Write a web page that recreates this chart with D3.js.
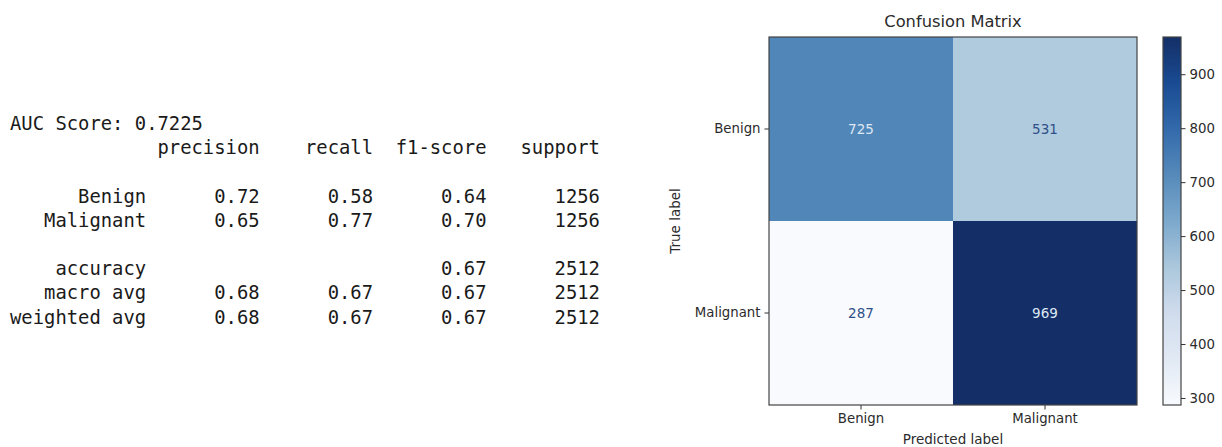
<!DOCTYPE html>
<html>
<head>
<meta charset="utf-8">
<script src="https://cdn.jsdelivr.net/npm/d3@7"></script>
<style>
  html, body { margin: 0; padding: 0; background: #fff; }
  svg { display: block; }
  .mono { font-family: "DejaVu Sans Mono", monospace; font-size: 18.85px; fill: #1a1a1a; white-space: pre; }
  .lab { font-family: "DejaVu Sans", sans-serif; fill: #2b2b2b; }
</style>
</head>
<body>
<svg id="chart" width="1222" height="447"></svg>
<script>
// ---- report data
var aucScore = "0.7225";
var reportHeader = ["precision", "recall", "f1-score", "support"];
var reportClasses = ["Benign", "Malignant"];
var precision = [0.72, 0.65];
var recall = [0.58, 0.77];
var f1score = [0.64, 0.70];
var support = [1256, 1256];
var accuracy = 0.67;
var totalSupport = 2512;
var macroAvg = [0.68, 0.67, 0.67];
var weightedAvg = [0.68, 0.67, 0.67];

// ---- confusion matrix data
var labels = ["Benign", "Malignant"];
var matrix = [[725, 531], [287, 969]];
var colorbarTicks = [300, 400, 500, 600, 700, 800, 900];

function draw() {
    var svg = d3.select("#chart");

    // pad like sklearn's classification_report
    function rpad(s, n) { s = String(s); while (s.length < n) s = " " + s; return s; }
    function row(name, vals) {
        return rpad(name, 12) + vals.map(function(v) { return rpad(v, 10); }).join("");
    }
    var lines = [];
    lines.push("AUC Score: " + aucScore);
    lines.push(rpad("", 12) + reportHeader.map(function(h) { return rpad(h, 10); }).join(""));
    lines.push("");
    reportClasses.forEach(function(c, i) {
        lines.push(row(c, [precision[i].toFixed(2), recall[i].toFixed(2), f1score[i].toFixed(2), support[i]]));
    });
    lines.push("");
    lines.push(row("accuracy", ["", "", accuracy.toFixed(2), totalSupport]));
    lines.push(row("macro avg", macroAvg.map(function(v) { return v.toFixed(2); }).concat([totalSupport])));
    lines.push(row("weighted avg", weightedAvg.map(function(v) { return v.toFixed(2); }).concat([totalSupport])));

    var lineY = d3.scaleLinear().domain([0, 1]).range([130, 154.2]);
    svg.append("g").selectAll("text")
        .data(lines)
        .enter().append("text")
        .attr("class", "mono")
        .attr("x", 10)
        .attr("y", function(d, i) { return lineY(i); })
        .attr("xml:space", "preserve")
        .text(function(d) { return d; });

    // ---- confusion matrix
    var mLeft = 769, mTop = 37, size = 368;
    var g = svg.append("g").attr("transform", "translate(" + mLeft + "," + mTop + ")");

    var x = d3.scaleBand().domain(labels).range([0, size]);
    var y = d3.scaleBand().domain(labels).range([0, size]);

    // Blues, slightly muted like the screenshot
    var blues = ["#f7fbff", "#deebf7", "#c6dbef", "#9ecae1", "#6baed6", "#4292c6", "#2171b5", "#08519c", "#08306b"]
        .map(function(c) {
            var h = d3.hsl(c);
            h.h += 5; h.s *= 0.78;
            if (h.l < 0.9) h.l += 0.015;
            return h.formatHex();
        });
    var vmin = d3.min(matrix, function(r) { return d3.min(r); });
    var vmax = d3.max(matrix, function(r) { return d3.max(r); });
    var color = d3.scaleLinear()
        .domain(blues.map(function(d, i) { return vmin + (vmax - vmin) * i / (blues.length - 1); }))
        .range(blues)
        .interpolate(d3.interpolateRgb);
    var thresh = (vmin + vmax) / 2;

    var cells = [];
    matrix.forEach(function(r, i) {
        r.forEach(function(v, j) { cells.push({t: labels[i], p: labels[j], v: v}); });
    });

    g.selectAll("rect.cell")
        .data(cells)
        .enter().append("rect")
        .attr("class", "cell")
        .attr("x", function(d) { return x(d.p); })
        .attr("y", function(d) { return y(d.t); })
        .attr("width", x.bandwidth())
        .attr("height", y.bandwidth())
        .attr("fill", function(d) { return color(d.v); });

    g.selectAll("text.val")
        .data(cells)
        .enter().append("text")
        .attr("class", "lab")
        .attr("x", function(d) { return x(d.p) + x.bandwidth() / 2; })
        .attr("y", function(d) { return y(d.t) + y.bandwidth() / 2; })
        .attr("dy", "0.35em")
        .attr("text-anchor", "middle")
        .style("font-size", "13.5px")
        .style("fill", function(d) { return d.v < thresh ? "#2f4f87" : "#dde8f5"; })
        .text(function(d) { return d.v; });

    // axes
    var xAxis = g.append("g")
        .attr("transform", "translate(0," + size + ")")
        .call(d3.axisBottom(x).tickSize(4.5).tickPadding(4));
    var yAxis = g.append("g")
        .call(d3.axisLeft(y).tickSize(4.5).tickPadding(4));
    [xAxis, yAxis].forEach(function(a) {
        a.select(".domain").remove();
        a.selectAll("line").attr("stroke", "#333").attr("stroke-width", 1);
        a.selectAll("text").attr("class", "lab").style("font-size", "13.3px").style("fill", "#2b2b2b");
    });

    g.append("rect")
        .attr("x", 0).attr("y", 0)
        .attr("width", size).attr("height", size)
        .attr("fill", "none")
        .attr("stroke", "#444")
        .attr("stroke-width", 1.2);

    svg.append("text")
        .attr("class", "lab")
        .attr("x", mLeft + size / 2)
        .attr("y", 27)
        .attr("text-anchor", "middle")
        .style("font-size", "16.3px")
        .text("Confusion Matrix");

    svg.append("text")
        .attr("class", "lab")
        .attr("x", mLeft + size / 2)
        .attr("y", 444)
        .attr("text-anchor", "middle")
        .style("font-size", "13.5px")
        .text("Predicted label");

    svg.append("text")
        .attr("class", "lab")
        .attr("transform", "translate(680," + (mTop + size / 2) + ") rotate(-90)")
        .attr("text-anchor", "middle")
        .style("font-size", "13.5px")
        .text("True label");

    // ---- colorbar
    var cbX = 1163, cbW = 18;
    var defs = svg.append("defs");
    var grad = defs.append("linearGradient")
        .attr("id", "cbgrad")
        .attr("x1", "0").attr("y1", "1").attr("x2", "0").attr("y2", "0");
    blues.forEach(function(c, i) {
        grad.append("stop")
            .attr("offset", (i / (blues.length - 1) * 100) + "%")
            .attr("stop-color", c);
    });
    var cb = svg.append("g").attr("transform", "translate(" + cbX + "," + mTop + ")");
    cb.append("rect")
        .attr("width", cbW).attr("height", size)
        .attr("fill", "url(#cbgrad)")
        .attr("stroke", "#444")
        .attr("stroke-width", 1.2);
    var cbScale = d3.scaleLinear().domain([vmin, vmax]).range([size, 0]);
    var cbAxis = cb.append("g")
        .attr("transform", "translate(" + cbW + ",0)")
        .call(d3.axisRight(cbScale).tickValues(colorbarTicks).tickSize(4.5).tickPadding(4));
    cbAxis.select(".domain").remove();
    cbAxis.selectAll("line").attr("stroke", "#333");
    cbAxis.selectAll("text").attr("class", "lab").style("font-size", "13.3px").style("fill", "#2b2b2b");
}
draw();
</script>
</body>
</html>
